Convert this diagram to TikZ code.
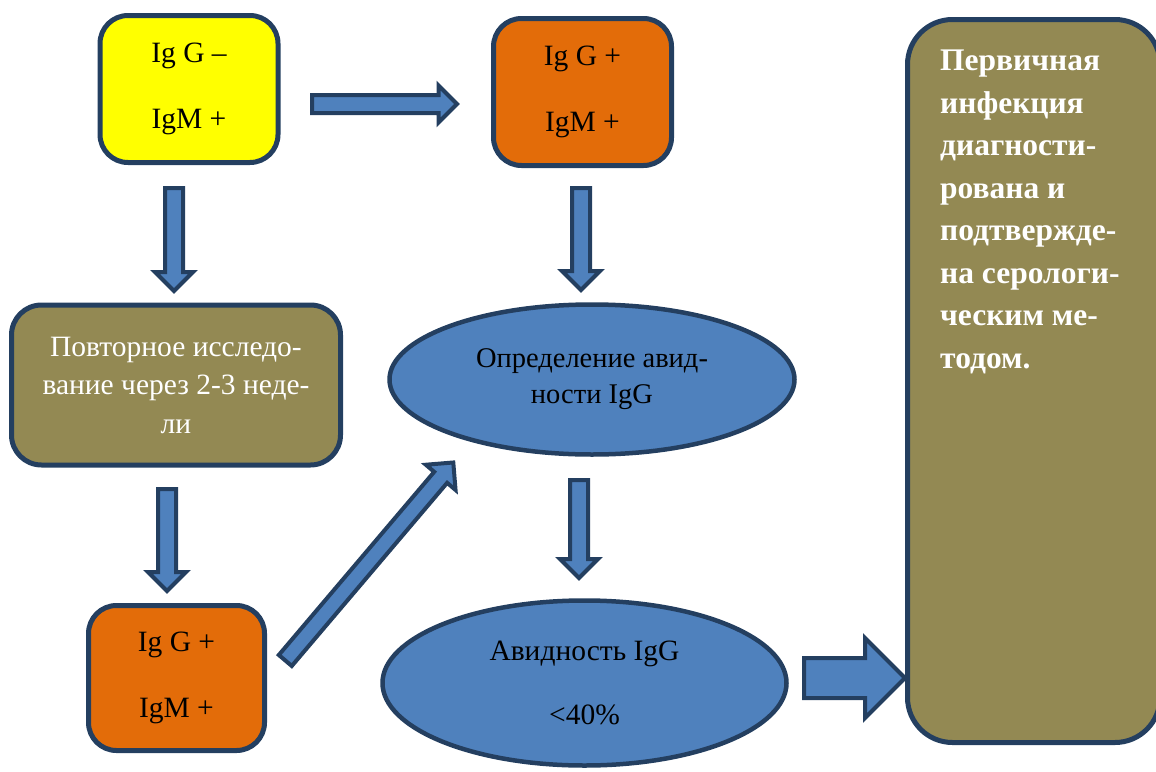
\documentclass[tikz,border=0pt]{standalone}
\usepackage{fontspec}
\setmainfont{Liberation Serif}
\usetikzlibrary{shapes.geometric,shapes.arrows,calc,positioning}

\definecolor{outline}{HTML}{243F60}
\definecolor{arrowblue}{HTML}{4F81BD}
\definecolor{igyellow}{HTML}{FFFF00}
\definecolor{igorange}{HTML}{E36C09}
\definecolor{olive}{HTML}{938953}

\begin{document}
\begin{tikzpicture}[x=1pt, y=-1pt,
    igbox/.style={draw=outline, line width=5pt, rounded corners=28pt, minimum width=178pt,
      minimum height=147pt, inner sep=0pt, align=center, font=\fontsize{29.5}{66}\selectfont},
    olivebox/.style={draw=outline, line width=5pt, rounded corners=30pt, fill=olive, text=white,
      inner sep=0pt, align=center},
    oval/.style={ellipse, draw=outline, line width=4.5pt, fill=arrowblue, inner sep=0pt, align=center},
    blockarrow/.style={single arrow, draw=outline, fill=arrowblue, line width=4pt, inner xsep=0pt,
      single arrow head indent=0pt, single arrow tip angle=90},
    blockedge/.style 2 args={draw=none, to path={let \p1=($(\tikztotarget)-(\tikztostart)$), \n1={veclen(\x1,\y1)} in
      (\tikztostart) -- (\tikztotarget) node[blockarrow, pos=0, anchor=tail, sloped, allow upside down,
      minimum height=\n1, inner ysep=#1, single arrow head extend=#2] {}}}]
    \useasboundingbox (0,0) rectangle (1156,771);
    \clip (0,0) rectangle (1156,771);

    % antibody boxes
    \node[igbox, fill=igyellow] (igstart) at (189,89) {Ig G –\\IgM +};
    \node[igbox, fill=igorange] (igboth) at (582.5,92) {Ig G +\\IgM +};
    \node[igbox, fill=igorange, minimum width=176pt, minimum height=145pt] (igboth2) at (176.5,678) {Ig G +\\IgM +};

    % repeated test
    \node[olivebox, minimum width=329pt, minimum height=160pt, font=\fontsize{29.5}{38.5}\selectfont]
      (recheck) at (176,385) {Повторное исследо-\\вание через 2-3 неде-\\ли};

    % avidity
    \node[oval, minimum width=405pt, minimum height=150pt, font=\fontsize{28.5}{36}\selectfont]
      (avidtest) at (592,379.5) {Определение авид-\\ности IgG};
    \node[oval, minimum width=404pt, minimum height=165pt, font=\fontsize{29.5}{64}\selectfont]
      (avidlow) at (584.5,683) {Авидность IgG\\<40\%};

    % result
    \node[olivebox, rounded corners=45pt, minimum width=252.5pt, minimum height=723pt]
      (primary) at (1033.75,381) {};
    \node[anchor=north west, inner sep=0pt, align=left, text=white,
      font=\bfseries\fontsize{31.5}{42.5}\selectfont] (primarytext) at (940,50)
      {Первичная\\инфекция\\диагности-\\рована и\\подтвержде-\\на серологи-\\ческим ме-\\тодом.};

    % arrow ends
    \coordinate (r1s) at (310,104);  \coordinate (r1e) at (455,104);
    \coordinate (d1s) at (174,186);  \coordinate (d1e) at (174,289);
    \coordinate (d2s) at (581,186);  \coordinate (d2e) at (581,288);
    \coordinate (d3s) at (167,487);  \coordinate (d3e) at (167,589);
    \coordinate (d4s) at (579,478);  \coordinate (d4e) at (579,576);
    \coordinate (g1s) at (284,662);  \coordinate (g1e) at (452,464);
    \coordinate (r2s) at (802,678);  \coordinate (r2e) at (903,678);

    \path
    (r1s) edge[blockedge={7pt}{9.5pt}] (r1e)
    (d1s) edge[blockedge={7pt}{10pt}] (d1e)
    (d2s) edge[blockedge={7pt}{10pt}] (d2e)
    (d3s) edge[blockedge={7pt}{10pt}] (d3e)
    (d4s) edge[blockedge={7pt}{10pt}] (d4e)
    (g1s) edge[blockedge={6.5pt}{11pt}] (g1e)
    (r2s) edge[blockedge={18pt}{20pt}] (r2e);
\end{tikzpicture}
\end{document}
